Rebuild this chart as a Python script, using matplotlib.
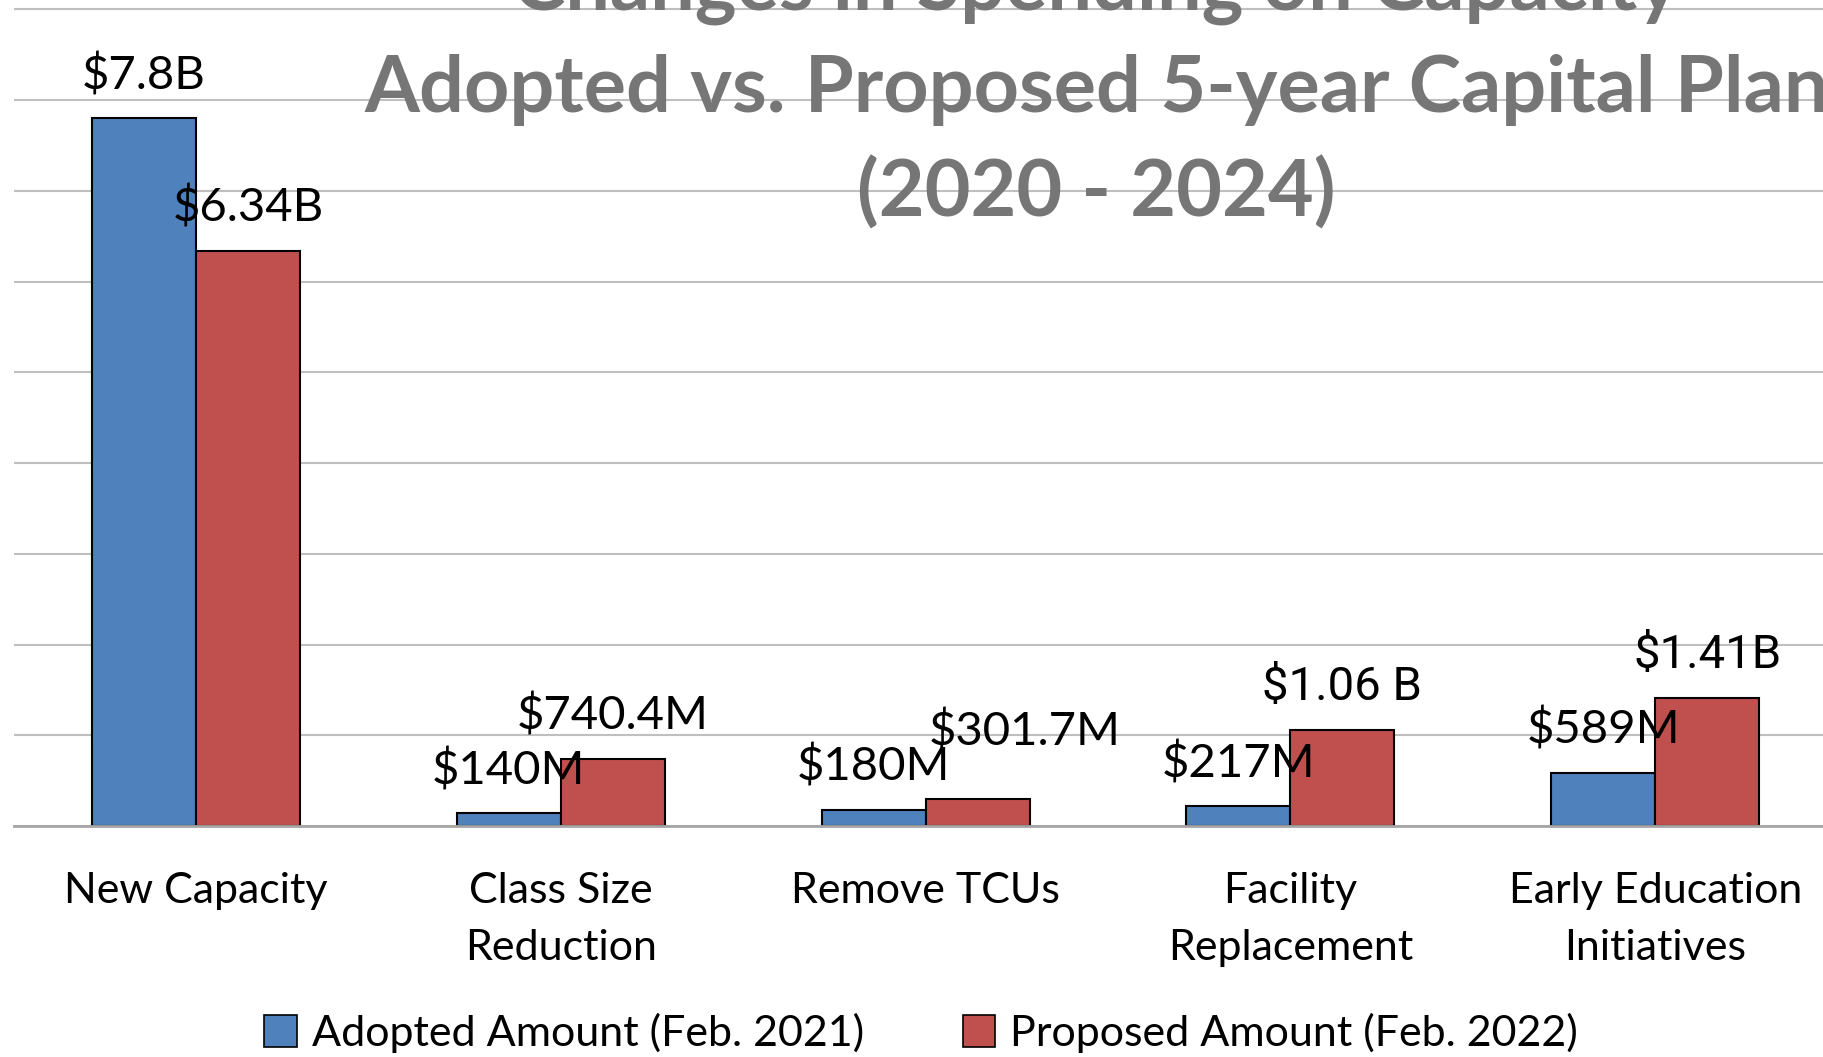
import numpy as np
import matplotlib.pyplot as plt
from matplotlib.patches import Patch

plt.rcParams['font.family'] = ['Lato', 'DejaVu Sans']

categories = ['New Capacity', 'Class Size\nReduction', 'Remove TCUs',
              'Facility\nReplacement', 'Early Education\nInitiatives']
adopted = [7.8, 0.140, 0.180, 0.217, 0.589]          # billions
proposed = [6.34, 0.7404, 0.3017, 1.06, 1.41]        # billions
adopted_labels = ['$7.8B', '$140M', '$180M', '$217M', '$589M']
proposed_labels = ['$6.34B', '$740.4M', '$301.7M', '$1.06 B', '$1.41B']
series_names = ['Adopted Amount (Feb. 2021)', 'Proposed Amount (Feb. 2022)']

blue = '#4F81BD'
red = '#C0504D'

fig = plt.figure(figsize=(18.24, 10.57), dpi=100)
# axes runs off the top and right edges like the cropped original
ax = fig.add_axes([13.6 / 1824, 231 / 1057, 1.0, 826 / 1057])

x = np.arange(len(categories))
w = 0.285
ax.bar(x - w / 2, adopted, w, color=blue, edgecolor='black', linewidth=1.5, zorder=3)
ax.bar(x + w / 2, proposed, w, color=red, edgecolor='black', linewidth=1.5, zorder=3)

ax.set_xlim(-0.5, 4.5)
ax.set_ylim(0, 9.103)
ax.set_yticks(np.arange(0, 10, 1))
ax.yaxis.grid(True, color='#bfbfbf', linewidth=1.5, zorder=0)
ax.set_axisbelow(True)
ax.tick_params(axis='y', left=False, labelleft=False)
for s in ['top', 'right', 'left']:
    ax.spines[s].set_visible(False)
ax.spines['bottom'].set_color('#a6a6a6')
ax.spines['bottom'].set_linewidth(2)
ax.spines['bottom'].set_zorder(4)

ax.set_xticks(x)
ax.set_xticklabels(categories, fontsize=31, linespacing=1.62)
ax.tick_params(axis='x', length=0, pad=33)

# value labels above each bar (one is nudged in the original)
nudge = {('p', 2): (34, 17)}
for i in range(len(categories)):
    dx, dy = nudge.get(('a', i), (0, 0))
    ax.annotate(adopted_labels[i], (x[i] - w / 2, adopted[i]),
                xytext=(dx, 31 + dy), textcoords='offset points',
                ha='center', va='center', fontsize=34, zorder=5)
    dx, dy = nudge.get(('p', i), (0, 0))
    fam = ['Roboto'] if i in (3, 4) else ['Lato']
    ax.annotate(proposed_labels[i], (x[i] + w / 2, proposed[i]),
                xytext=(dx, 31 + dy), textcoords='offset points',
                ha='center', va='center', fontsize=34, zorder=5,
                family=fam)

fig.text(0.601, 1 - 91 / 1057,
         'Changes in Spending on Capacity\nAdopted vs. Proposed 5-year Capital Plan\n(2020 - 2024)',
         ha='center', va='center', fontsize=57, fontweight='bold',
         color='#767676', linespacing=1.5, zorder=1)

handles = [Patch(facecolor=blue, edgecolor='black', linewidth=1.2),
           Patch(facecolor=red, edgecolor='black', linewidth=1.2)]
fig.legend(handles, series_names, loc='center', bbox_to_anchor=(0.505, 1 - 1033 / 1057),
           ncol=2, frameon=False, fontsize=31, handlelength=0.75, handleheight=0.75,
           handletextpad=0.35, columnspacing=2.3)

fig.savefig('out.png', dpi=100)
